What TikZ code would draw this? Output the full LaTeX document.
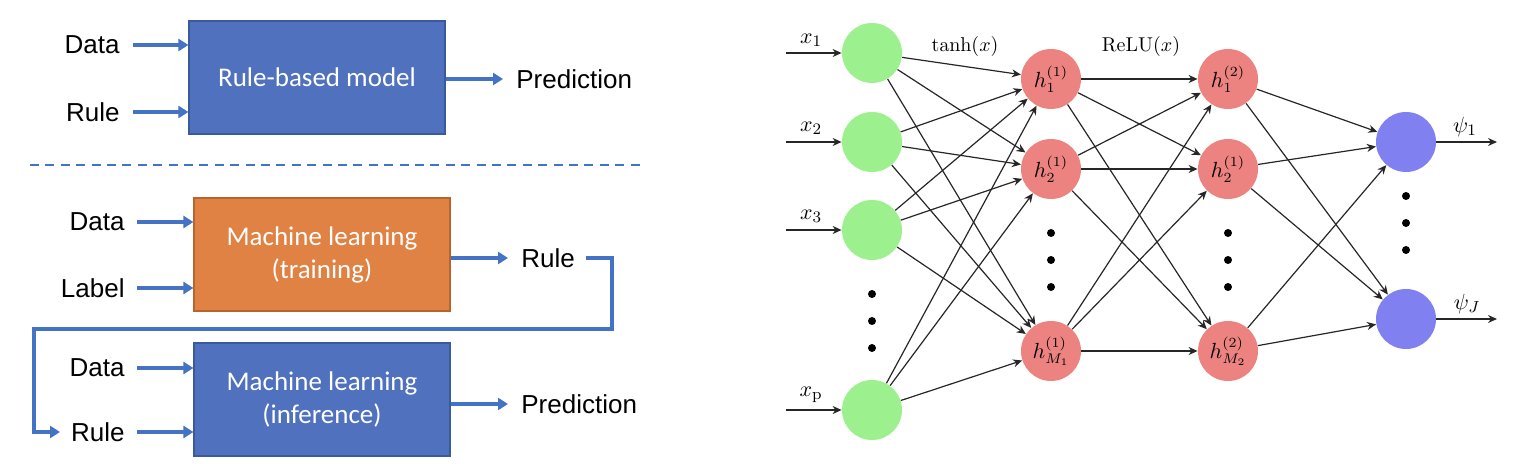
\documentclass[tikz,border=0pt]{standalone}
\usepackage[no-math]{fontspec}
\setmainfont{Liberation Sans}
\newfontfamily\boxfont{Carlito}
\usetikzlibrary{arrows.meta}
\definecolor{boxblue}{HTML}{4F71BE}
\definecolor{boxblueb}{HTML}{3A5A9E}
\definecolor{boxorange}{HTML}{DF8244}
\definecolor{boxorangeb}{HTML}{B8642C}
\definecolor{arrblue}{HTML}{4472C4}
\definecolor{ngreen}{HTML}{9CF08E}
\definecolor{nred}{HTML}{EC8380}
\definecolor{nblue}{HTML}{8080F0}
\definecolor{nnline}{HTML}{262626}
\tikzset{
  lbl/.style={font=\fontsize{13}{15}\selectfont, inner sep=0pt},
  modelbox/.style={draw=#1b, fill=#1, line width=0.6pt, minimum width=128pt, minimum height=56.5pt,
    inner sep=0pt, text=white, align=center, font=\boxfont\fontsize{13.5}{16.5}\selectfont},
  arr/.style={draw=arrblue, line width=1.7pt, -{Triangle[length=5pt,width=6pt]}},
  dashline/.style={draw=arrblue, line width=1pt, dash pattern=on 4.5pt off 3.2pt},
  neuron/.style={circle, fill=#1, minimum size=30pt, inner sep=0pt, font=\fontsize{10.5}{12}\selectfont},
  nnarr/.style={draw=nnline, line width=0.6pt, -{Stealth[length=4.5pt,width=4pt]}},
  nnlbl/.style={inner sep=0pt, font=\fontsize{11}{12}\selectfont},
  fnlbl/.style={inner sep=0pt, font=\fontsize{10}{12}\selectfont},
  vdot/.style={circle, fill=black, minimum size=4pt, inner sep=0pt}
}
\begin{document}
\begin{tikzpicture}[x=0.5pt,y=-0.5pt]
\useasboundingbox (0,0) rectangle (1520,464);
% ---------------- left panel ----------------
\node[modelbox=boxblue] (rb) at (317,77.5) {Rule-based model};
\node[lbl, anchor=east] (d1) at (120,45) {Data};
\node[lbl, anchor=east] (r1) at (120,112) {Rule};
\node[lbl, anchor=west] (p1) at (516,79) {Prediction};
\draw[arr] (d1.east) ++(6.5pt,0) coordinate (d1s) -- (d1s -| rb.west);
\draw[arr] (r1.east) ++(6.5pt,0) coordinate (r1s) -- (r1s -| rb.west);
\draw[arr] (rb.east |- p1.west) -- ([xshift=-6.5pt]p1.west);

\coordinate (dashL) at (30,165);
\coordinate (dashR) at (640,165);
\draw[dashline] (dashL) -- (dashR);

\node[modelbox=boxorange] (mlt) at (322,254.5) {Machine learning\\(training)};
\node[lbl, anchor=east] (d2) at (125,222) {Data};
\node[lbl, anchor=east] (l2) at (125,288) {Label};
\node[lbl, anchor=west] (r2) at (521,258) {Rule};
\draw[arr] (d2.east) ++(6pt,0) coordinate (d2s) -- (d2s -| mlt.west);
\draw[arr] (l2.east) ++(6pt,0) coordinate (l2s) -- (l2s -| mlt.west);
\draw[arr] (mlt.east |- r2.west) -- ([xshift=-6.5pt]r2.west);

\node[modelbox=boxblue] (mli) at (322,399.5) {Machine learning\\(inference)};
\node[lbl, anchor=east] (d3) at (125,368) {Data};
\node[lbl, anchor=east] (r3) at (125,432) {Rule};
\node[lbl, anchor=west] (p3) at (521,404) {Prediction};
\draw[arr] (d3.east) ++(6pt,0) coordinate (d3s) -- (d3s -| mli.west);
\draw[arr] (r3.east) ++(6pt,0) coordinate (r3s) -- (r3s -| mli.west);
\draw[arr] (mli.east |- p3.west) -- ([xshift=-6.5pt]p3.west);

\coordinate (loopA) at (586,258);
\coordinate (loopB) at (612,329);
\coordinate (loopC) at (34,432);
\coordinate (loopEnd) at (60,432);
\draw[arr] (loopA) -| (loopB) -| (loopC) -- (loopEnd);

% ---------------- right panel ----------------
\node[neuron=ngreen] (in1) at (872,53) {};
\node[neuron=ngreen] (in2) at (872,142) {};
\node[neuron=ngreen] (in3) at (872,230) {};
\node[neuron=ngreen] (inp) at (872,410) {};
\node[neuron=nred] (h11) at (1051,79) {$h_{1}^{(1)}$};
\node[neuron=nred] (h12) at (1051,169) {$h_{2}^{(1)}$};
\node[neuron=nred] (h1M) at (1051,351) {$h_{M_1}^{(1)}$};
\node[neuron=nred] (h21) at (1228,79) {$h_{1}^{(2)}$};
\node[neuron=nred] (h22) at (1228,169) {$h_{2}^{(1)}$};
\node[neuron=nred] (h2M) at (1228,351) {$h_{M_2}^{(2)}$};
\node[neuron=nblue] (o1) at (1406,142) {};
\node[neuron=nblue] (oJ) at (1406,319) {};

% vertical dots
\foreach \y [count=\i] in {294,321,348} \node[vdot] (dx\i) at (872,\y) {};
\foreach \y [count=\i] in {233,260,287} \node[vdot] (dh\i) at (1051,\y) {};
\foreach \y [count=\i] in {233,260,287} \node[vdot] (dg\i) at (1228,\y) {};
\foreach \y [count=\i] in {196,223,250} \node[vdot] (do\i) at (1406,\y) {};

% inputs
\foreach \n/\y in {in1/53,in2/142,in3/230,inp/410} {
  \coordinate (s\n) at (786,\y);
  \draw[nnarr] (s\n) -- (\n);
}
\node[nnlbl] (lx1) at (811,40) {$x_{1}$};
\node[nnlbl] (lx2) at (811,128) {$x_{2}$};
\node[nnlbl] (lx3) at (811,216) {$x_{3}$};
\node[nnlbl] (lxp) at (811,395) {$x_{\mathrm{p}}$};

% connections
\foreach \a in {in1,in2,in3,inp} \foreach \b in {h11,h12,h1M} \draw[nnarr] (\a) -- (\b);
\foreach \a in {h11,h12,h1M} \foreach \b in {h21,h22,h2M} \draw[nnarr] (\a) -- (\b);
\foreach \a in {h21,h22,h2M} \foreach \b in {o1,oJ} \draw[nnarr] (\a) -- (\b);

% outputs
\coordinate (eo1) at (1497,142);
\coordinate (eoJ) at (1497,319);
\draw[nnarr] (o1) -- (eo1);
\draw[nnarr] (oJ) -- (eoJ);
\node[nnlbl] (lo1) at (1465,127) {$\psi_{1}$};
\node[nnlbl] (loJ) at (1467,304) {$\psi_{J}$};

\node[fnlbl] (ftanh) at (965,47) {$\tanh(x)$};
\node[fnlbl] (frelu) at (1141,47) {$\mathrm{ReLU}(x)$};
\end{tikzpicture}
\end{document}
